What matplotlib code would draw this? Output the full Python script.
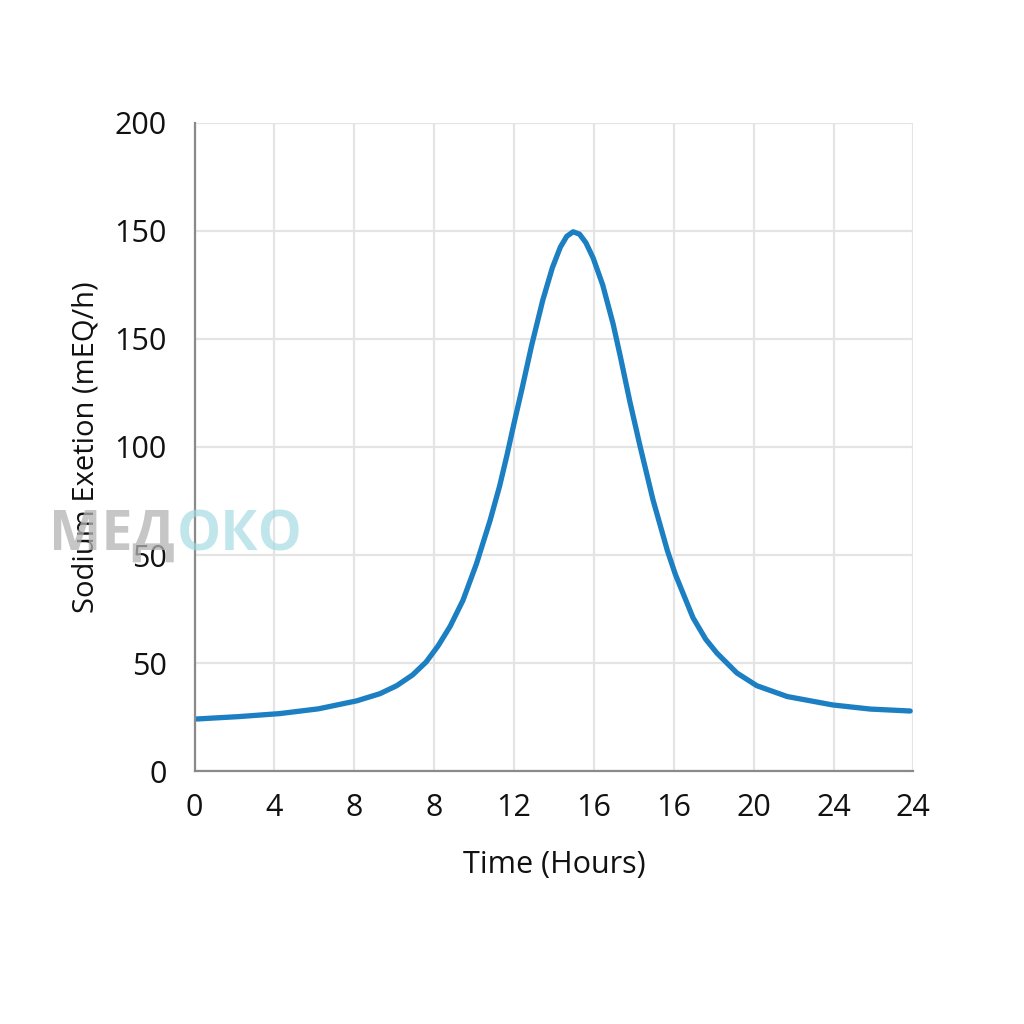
import matplotlib.pyplot as plt

plt.rcParams['font.family'] = ['Open Sans', 'DejaVu Sans']

# x positions are grid-line indices, labels as printed on the chart
x_labels = ['0', '4', '8', '8', '12', '16', '16', '20', '24', '24']
y_labels = ['0', '50', '50', '100', '150', '150', '200']

# curve (x in grid index units, y in 50-per-gridline units)
curve_x = [0.025, 0.55, 1.065, 1.55, 2.03, 2.32, 2.53, 2.73, 2.90, 3.05, 3.20,
           3.36, 3.53, 3.70, 3.82, 3.91, 4.00, 4.10, 4.22, 4.36, 4.48, 4.58,
           4.66, 4.74, 4.82, 4.90, 4.99, 5.11, 5.24, 5.33, 5.45, 5.58, 5.74,
           5.92, 6.02, 6.24, 6.40, 6.54, 6.79, 7.04, 7.42, 7.99, 8.46, 8.96]
curve_y = [24.1, 25.2, 26.6, 28.8, 32.5, 35.8, 39.5, 44.5, 50.5, 58, 67,
           79, 96, 116, 132, 146, 161, 177, 197, 218, 233, 242.5,
           247.5, 249.6, 248.5, 244.5, 237.5, 225, 207, 192, 171, 150, 125.5,
           102, 91, 71, 61, 54.6, 45.4, 39.5, 34.5, 30.6, 28.7, 27.8]

fig = plt.figure(figsize=(10.24, 10.24), dpi=100)
ax = fig.add_axes([0.190, 0.247, 0.702, 0.633])

ax.plot(curve_x, curve_y, color='#1b7fc2', linewidth=3.8,
        solid_capstyle='round', solid_joinstyle='round')

ax.set_xlim(0, 9)
ax.set_ylim(0, 300)
ax.set_xticks(range(len(x_labels)))
ax.set_xticklabels(x_labels)
ax.set_yticks([i * 50 for i in range(len(y_labels))])
ax.set_yticklabels(y_labels)
ax.tick_params(axis='both', length=0, labelsize=22, colors='#111111')
ax.tick_params(axis='y', pad=20)
ax.tick_params(axis='x', pad=16)

ax.grid(True, color='#e4e4e4', linewidth=1.6)
ax.set_axisbelow(True)
for side in ['top', 'right']:
    ax.spines[side].set_visible(False)
for side in ['left', 'bottom']:
    ax.spines[side].set_color('#8a8a8a')
    ax.spines[side].set_linewidth(1.6)

ax.set_xlabel('Time (Hours)', fontsize=22, labelpad=19, color='#111111')
ax.set_ylabel('Sodium Exetion (mEQ/h)', fontsize=21, labelpad=10, color='#111111')

# watermark
fig.text(0.171, 0.477, 'МЕД', fontsize=40, fontweight='bold', color='#b4b4b4',
         alpha=0.75, va='center', ha='right')
fig.text(0.173, 0.477, 'ОКО', fontsize=40, fontweight='bold', color='#9fdae1',
         alpha=0.65, va='center', ha='left')

fig.savefig('out.png', dpi=100, facecolor='white')
